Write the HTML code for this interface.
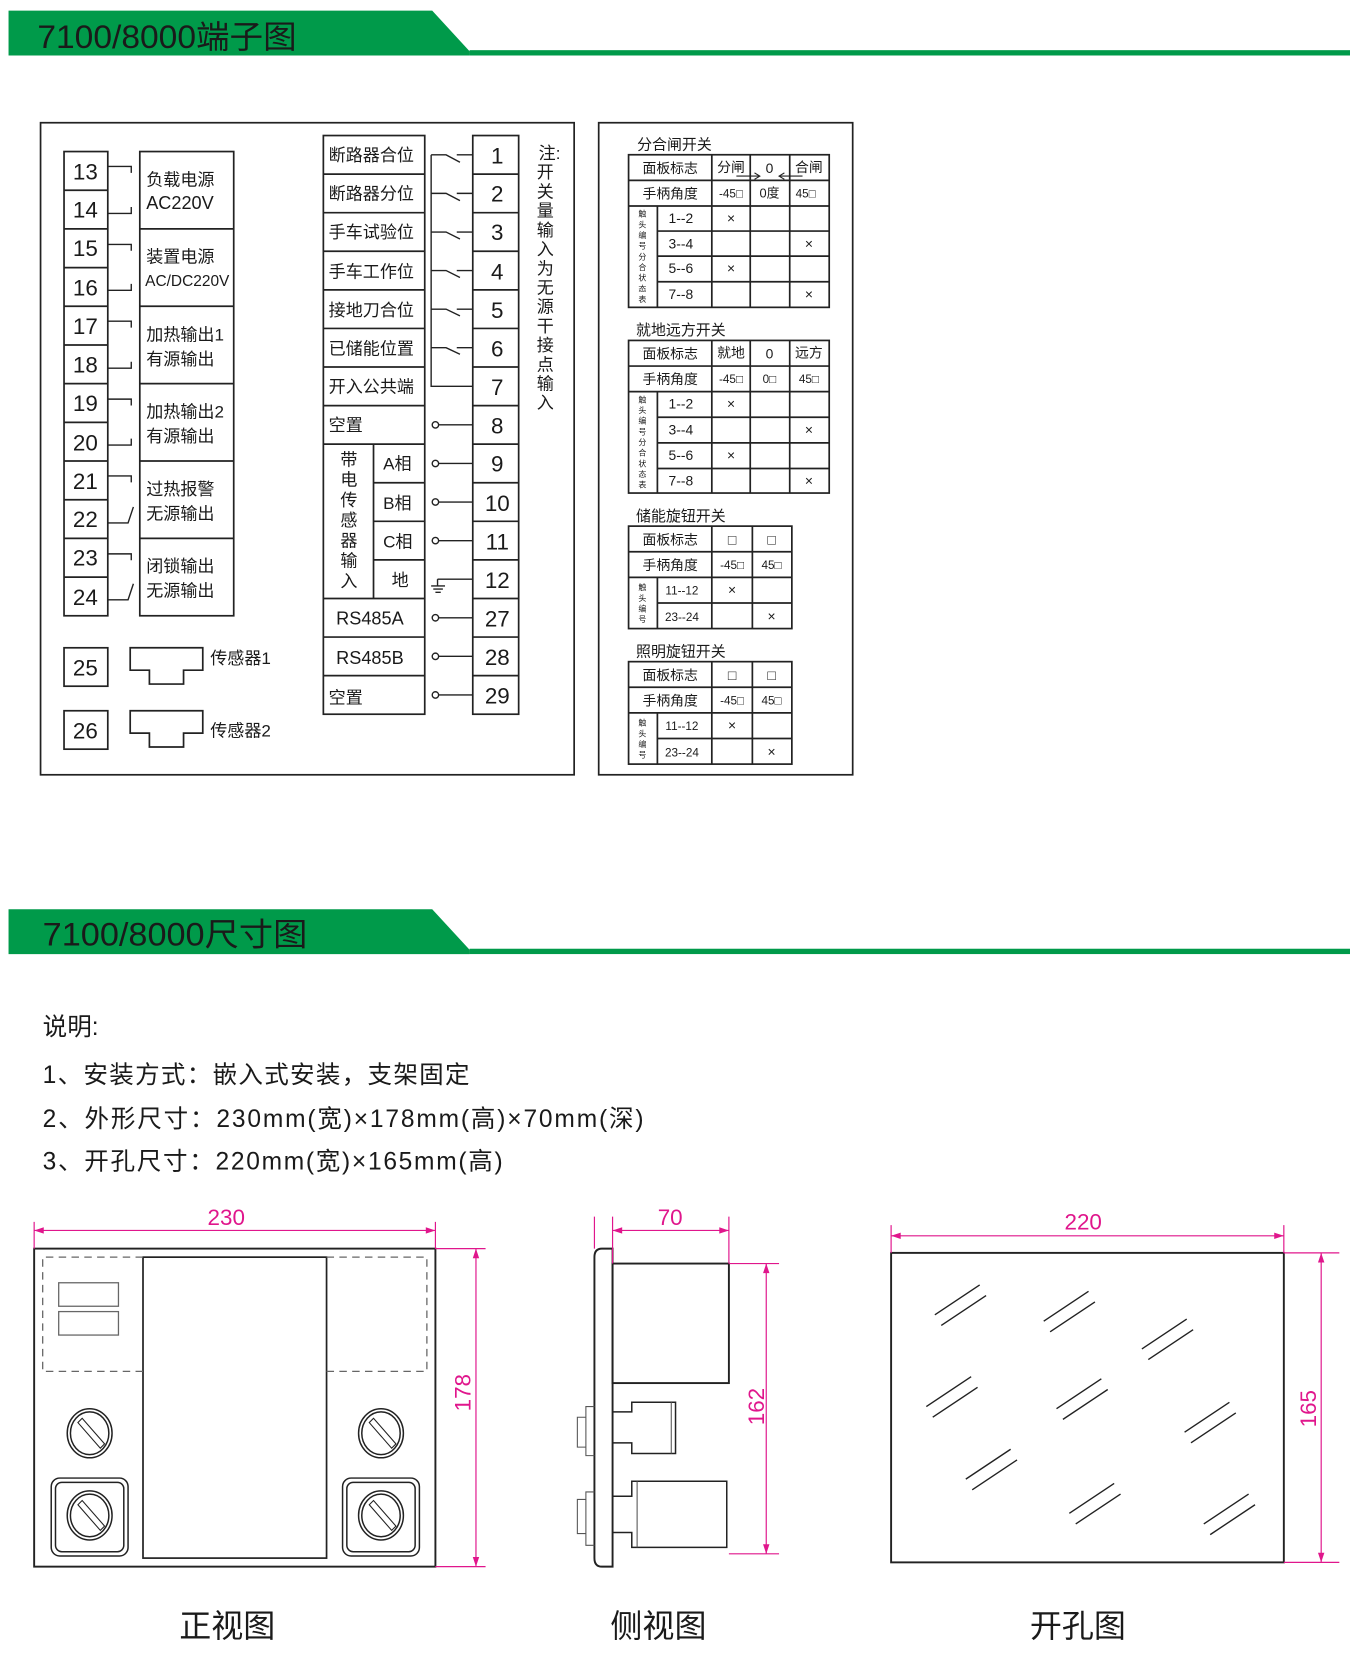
<!DOCTYPE html>
<html><head><meta charset="utf-8"><style>
html,body{margin:0;padding:0;background:#fff}
svg{display:block}
text{font-family:"Liberation Sans","Noto Sans CJK SC",sans-serif;fill:#1a1a1a}
.s{font-family:"Liberation Serif","Noto Serif CJK SC",serif}
.m{fill:#e0168c}
</style></head><body>
<svg width="1350" height="1674" viewBox="0 0 1265 1568.6" xmlns="http://www.w3.org/2000/svg">
<rect width="1265" height="1569" fill="#fff"/>
<!-- header 1 -->
<polygon points="8,10 405,10 440,48 440,52 8,52" fill="#009a4a"/>
<rect x="440" y="47" width="825" height="5" fill="#009a4a"/>
<text x="35" y="45" font-size="30" textLength="243" lengthAdjust="spacingAndGlyphs">7100/8000端子图</text>
<!-- header 2 -->
<polygon points="8,852 405,852 440,890 440,894 8,894" fill="#009a4a"/>
<rect x="440" y="889" width="825" height="5" fill="#009a4a"/>
<text x="40" y="886" font-size="30" textLength="248" lengthAdjust="spacingAndGlyphs">7100/8000尺寸图</text>

<g fill="none" stroke="#222" stroke-width="1.6">
<rect x="38" y="115" width="500" height="611"/>
<rect x="561" y="115" width="238" height="611"/>
<!-- left terminals -->
<rect x="60" y="142" width="41" height="435"/>
<path d="M60,178.25H101M60,214.5H101M60,250.75H101M60,287H101M60,323.25H101M60,359.5H101M60,395.75H101M60,432H101M60,468.25H101M60,504.5H101M60,540.75H101"/>
<rect x="131" y="142" width="88" height="435"/>
<path d="M131,214.5H219M131,287H219M131,359.5H219M131,432H219M131,504.5H219"/>
<g stroke-width="1.3">
<path d="M101,156H123V162M101,200H123V194"/>
<path d="M101,229H123V235M101,272H123V266"/>
<path d="M101,301H123V307M101,345H123V339"/>
<path d="M101,374H123V380M101,417H123V411"/>
<path d="M101,446H123V452M101,490H120L125,475"/>
<path d="M101,519H123V525M101,562H120L125,547"/>
</g>
<rect x="60" y="607" width="41" height="36"/>
<rect x="60" y="666" width="41" height="36"/>
<polygon points="122,607 190,607 190,628 172,628 172,641 140,641 140,628 122,628"/>
<polygon points="122,666 190,666 190,687 172,687 172,700 140,700 140,687 122,687"/>
<!-- middle -->
<rect x="303" y="127" width="95" height="542.25"/>
<rect x="443" y="127" width="43" height="542.25"/>
<path d="M303,163.15H398M303,199.3H398M303,235.45H398M303,271.6H398M303,307.75H398M303,343.9H398M303,380.05H398M303,416.2H398M350,452.35H398M350,488.5H398M350,524.65H398M303,560.8H398M303,596.95H398M303,633.1H398M350,416.2V560.8"/>
<path d="M443,163.15H486M443,199.3H486M443,235.45H486M443,271.6H486M443,307.75H486M443,343.9H486M443,380.05H486M443,416.2H486M443,452.35H486M443,488.5H486M443,524.65H486M443,560.8H486M443,596.95H486M443,633.1H486"/>
<g stroke-width="1.3">
<path d="M404,145.1V362H443"/>
<path d="M404,145.1H418L431,152M428,145.1H443"/>
<path d="M404,181.2H418L431,188M428,181.2H443"/>
<path d="M404,217.4H418L431,224M428,217.4H443"/>
<path d="M404,253.5H418L431,260M428,253.5H443"/>
<path d="M404,289.7H418L431,296M428,289.7H443"/>
<path d="M404,325.8H418L431,332M428,325.8H443"/>
<path d="M411,398.1H443M411,434.3H443M411,470.4H443M411,506.6H443M411,578.9H443M411,615H443M411,651.2H443"/>
<circle cx="408" cy="398.1" r="3"/><circle cx="408" cy="434.3" r="3"/><circle cx="408" cy="470.4" r="3"/><circle cx="408" cy="506.6" r="3"/><circle cx="408" cy="578.9" r="3"/><circle cx="408" cy="615" r="3"/><circle cx="408" cy="651.2" r="3"/>
<path d="M410,542.7H443M410,542.7V549M404,549H417M406,552H415M408,555H413"/>
</g>
</g>
<!-- left text -->
<g font-size="21" text-anchor="middle">
<text x="80" y="168">13</text><text x="80" y="204">14</text><text x="80" y="240">15</text><text x="80" y="277">16</text><text x="80" y="313">17</text><text x="80" y="349">18</text><text x="80" y="385">19</text><text x="80" y="422">20</text><text x="80" y="458">21</text><text x="80" y="494">22</text><text x="80" y="530">23</text><text x="80" y="567">24</text>
<text x="80" y="633">25</text><text x="80" y="692">26</text>
<text x="466" y="153">1</text><text x="466" y="189">2</text><text x="466" y="225">3</text><text x="466" y="262">4</text><text x="466" y="298">5</text><text x="466" y="334">6</text><text x="466" y="370">7</text><text x="466" y="406">8</text><text x="466" y="442">9</text><text x="466" y="479">10</text><text x="466" y="515">11</text><text x="466" y="551">12</text><text x="466" y="587">27</text><text x="466" y="623">28</text><text x="466" y="659">29</text>
</g>
<g font-size="16">
<text x="137" y="174">负载电源</text><text x="137" y="196" font-size="17">AC220V</text>
<text x="137" y="246">装置电源</text><text x="136" y="268" font-size="14.5">AC/DC220V</text>
<text x="137" y="319">加热输出1</text><text x="137" y="342">有源输出</text>
<text x="137" y="391">加热输出2</text><text x="137" y="414">有源输出</text>
<text x="137" y="464">过热报警</text><text x="137" y="487">无源输出</text>
<text x="137" y="536">闭锁输出</text><text x="137" y="559">无源输出</text>
<text x="197" y="622">传感器1</text><text x="197" y="690">传感器2</text>
<text x="308" y="151">断路器合位</text><text x="308" y="187">断路器分位</text><text x="308" y="223">手车试验位</text><text x="308" y="260">手车工作位</text><text x="308" y="296">接地刀合位</text><text x="308" y="332">已储能位置</text><text x="308" y="368">开入公共端</text><text x="308" y="404">空置</text><text x="308" y="659">空置</text>
<text x="359" y="440">A相</text><text x="359" y="477">B相</text><text x="359" y="513">C相</text><text x="367" y="549">地</text>
<text x="315" y="585" font-size="17">RS485A</text><text x="315" y="622" font-size="17">RS485B</text>
</g>
<g font-size="16" text-anchor="middle">
<text x="327" y="436">带</text><text x="327" y="455">电</text><text x="327" y="474">传</text><text x="327" y="493">感</text><text x="327" y="512">器</text><text x="327" y="531">输</text><text x="327" y="550">入</text>
<text x="515" y="149">注:</text><text x="511" y="167">开</text><text x="511" y="185">关</text><text x="511" y="203">量</text><text x="511" y="221">输</text><text x="511" y="239">入</text><text x="511" y="257">为</text><text x="511" y="275">无</text><text x="511" y="293">源</text><text x="511" y="311">干</text><text x="511" y="329">接</text><text x="511" y="347">点</text><text x="511" y="365">输</text><text x="511" y="383">入</text>
</g>

<!-- tables -->
<g fill="none" stroke="#222" stroke-width="1.6">
<rect x="589" y="145" width="188" height="143"/>
<path d="M589,169H777M589,193H777M616,216.5H777M616,240H777M616,264H777M616,193V288M667,145V288M703,145V288M740,145V288"/>
<rect x="589" y="319" width="188" height="143"/>
<path d="M589,343H777M589,367H777M616,391H777M616,415H777M616,439H777M616,367V462M667,319V462M703,319V462M740,319V462"/>
<rect x="589" y="493" width="153" height="96"/>
<path d="M589,517H742M589,541H742M616,565H742M616,541V589M667,493V589M705,493V589"/>
<rect x="589" y="620" width="153" height="96"/>
<path d="M589,644H742M589,668H742M616,692H742M616,668V716M667,620V716M705,620V716"/>
<path stroke-width="1" d="M690,165H712M707,162L712,165L707,168M752,165H730M735,162L730,165L735,168"/>
</g>
<g font-size="13" class="s" text-anchor="middle">
<text x="632" y="140" font-size="14" style="font-family:'Noto Sans CJK SC',sans-serif">分合闸开关</text>
<text x="638" y="314" font-size="14" style="font-family:'Noto Sans CJK SC',sans-serif">就地远方开关</text>
<text x="638" y="488" font-size="14" style="font-family:'Noto Sans CJK SC',sans-serif">储能旋钮开关</text>
<text x="638" y="615" font-size="14" style="font-family:'Noto Sans CJK SC',sans-serif">照明旋钮开关</text>

<text x="628" y="162">面板标志</text><text x="685" y="161">分闸</text><text x="721" y="162" font-family="Liberation Sans">0</text><text x="758" y="161">合闸</text>
<text x="628" y="186">手柄角度</text><text x="685" y="185" font-size="11">-45□</text><text x="721" y="185" font-size="12">0度</text><text x="755" y="185" font-size="11">45□</text>
<text x="638" y="209">1--2</text><text x="638" y="233">3--4</text><text x="638" y="256">5--6</text><text x="638" y="280">7--8</text>
<text x="685" y="209">×</text><text x="758" y="233">×</text><text x="685" y="256">×</text><text x="758" y="280">×</text>

<text x="628" y="336">面板标志</text><text x="685" y="335">就地</text><text x="721" y="336" font-family="Liberation Sans">0</text><text x="758" y="335">远方</text>
<text x="628" y="360">手柄角度</text><text x="685" y="359" font-size="11">-45□</text><text x="721" y="359" font-size="11">0□</text><text x="758" y="359" font-size="11">45□</text>
<text x="638" y="383">1--2</text><text x="638" y="407">3--4</text><text x="638" y="431">5--6</text><text x="638" y="455">7--8</text>
<text x="685" y="383">×</text><text x="758" y="407">×</text><text x="685" y="431">×</text><text x="758" y="455">×</text>

<text x="628" y="510">面板标志</text><text x="686" y="510">□</text><text x="723" y="510">□</text>
<text x="628" y="534">手柄角度</text><text x="686" y="533" font-size="11">-45□</text><text x="723" y="533" font-size="11">45□</text>
<text x="639" y="557" font-size="11">11--12</text><text x="639" y="582" font-size="11">23--24</text>
<text x="686" y="557">×</text><text x="723" y="582">×</text>

<text x="628" y="637">面板标志</text><text x="686" y="637">□</text><text x="723" y="637">□</text>
<text x="628" y="661">手柄角度</text><text x="686" y="660" font-size="11">-45□</text><text x="723" y="660" font-size="11">45□</text>
<text x="639" y="684" font-size="11">11--12</text><text x="639" y="709" font-size="11">23--24</text>
<text x="686" y="684">×</text><text x="723" y="709">×</text>
</g>
<g font-size="7.5" class="s" text-anchor="middle">
<text x="602" y="203">触</text><text x="602" y="213">头</text><text x="602" y="223">编</text><text x="602" y="233">号</text><text x="602" y="243">分</text><text x="602" y="253">合</text><text x="602" y="263">状</text><text x="602" y="273">态</text><text x="602" y="283">表</text>
<text x="602" y="377">触</text><text x="602" y="387">头</text><text x="602" y="397">编</text><text x="602" y="407">号</text><text x="602" y="417">分</text><text x="602" y="427">合</text><text x="602" y="437">状</text><text x="602" y="447">态</text><text x="602" y="457">表</text>
<text x="602" y="553">触</text><text x="602" y="563">头</text><text x="602" y="573">编</text><text x="602" y="583">号</text>
<text x="602" y="680">触</text><text x="602" y="690">头</text><text x="602" y="700">编</text><text x="602" y="710">号</text>
</g>

<!-- description -->
<g font-size="23">
<text x="40" y="970">说明:</text>
<text x="40" y="1015" textLength="400">1、安装方式：嵌入式安装，支架固定</text>
<text x="40" y="1056" textLength="563">2、外形尺寸：230mm(宽)×178mm(高)×70mm(深)</text>
<text x="40" y="1096" textLength="431">3、开孔尺寸：220mm(宽)×165mm(高)</text>
</g>

<!-- front view -->
<g fill="none" stroke="#222" stroke-width="1.8">
<rect x="32" y="1170" width="376" height="298"/>
<rect x="134" y="1178" width="172" height="282" stroke-width="1.6"/>
</g>
<g fill="none" stroke="#666" stroke-width="1.2">
<path d="M134,1285H40V1178H134M306,1178H400V1285H306" stroke-dasharray="7,5"/>
<rect x="55" y="1202" width="56" height="22"/><rect x="55" y="1229" width="56" height="22"/>
</g>
<g fill="none" stroke="#222" stroke-width="1.4">
<ellipse cx="84" cy="1343" rx="21" ry="23"/><ellipse cx="84" cy="1343" rx="18" ry="20"/>
<ellipse cx="357" cy="1343" rx="21" ry="23"/><ellipse cx="357" cy="1343" rx="18" ry="20"/>
<rect x="48" y="1385" width="72" height="73" rx="8"/><rect x="52" y="1389" width="64" height="65" rx="6"/>
<rect x="321" y="1385" width="72" height="73" rx="8"/><rect x="325" y="1389" width="64" height="65" rx="6"/>
<ellipse cx="84" cy="1420" rx="21" ry="23"/><ellipse cx="84" cy="1420" rx="18" ry="20"/>
<ellipse cx="357" cy="1420" rx="21" ry="23"/><ellipse cx="357" cy="1420" rx="18" ry="20"/>
<path stroke-width="1" d="M73,1333L94,1357L98,1353L77,1329ZM346,1333L367,1357L371,1353L350,1329ZM73,1410L94,1434L98,1430L77,1406ZM346,1410L367,1434L371,1430L350,1406Z"/>
</g>
<!-- side view -->
<g fill="none" stroke="#222" stroke-width="1.8">
<path d="M574,1170V1468H564Q557,1468 557,1460V1178Q557,1170 564,1170Z"/>
<rect x="574" y="1184" width="109" height="112"/>
<path stroke-width="1.4" d="M574,1323H592V1314H633V1362H592V1352H574M574,1402H592V1388H681V1450H592V1436H574"/>
<path stroke-width="1" stroke="#555" d="M557,1318H549V1364H557M549,1328H541V1356H549M557,1398H549V1448H557M549,1405H541V1437H549M629,1314V1362M597,1388V1450"/>
</g>
<!-- cutout -->
<rect x="835" y="1174" width="368" height="290" fill="none" stroke="#222" stroke-width="1.8"/>
<g stroke="#222" stroke-width="1.3">
<path d="M876,1232L918,1204M882,1242L924,1214"/>
<path d="M978,1238L1020,1210M984,1248L1026,1220"/>
<path d="M1070,1264L1112,1236M1076,1274L1118,1246"/>
<path d="M868,1318L910,1290M874,1328L916,1300"/>
<path d="M990,1320L1032,1292M996,1330L1038,1302"/>
<path d="M1110,1342L1152,1314M1116,1352L1158,1324"/>
<path d="M905,1386L947,1358M911,1396L953,1368"/>
<path d="M1002,1418L1044,1390M1008,1428L1050,1400"/>
<path d="M1128,1428L1170,1400M1134,1438L1176,1410"/>
</g>
<!-- dimensions -->
<g stroke="#e0168c" stroke-width="1.1" fill="none">
<path d="M32,1145V1170M408,1145V1170M32,1153H408"/>
<path d="M408,1170H455M408,1468H455M446,1170V1468"/>
<path d="M557,1140V1170M574,1140V1184M683,1140V1184M574,1153H683"/>
<path d="M683,1184H730M683,1456H730M718,1184V1456"/>
<path d="M835,1148V1174M1203,1148V1174M835,1158H1203"/>
<path d="M1203,1174H1255M1203,1464H1255M1238,1174V1464"/>
</g>
<g fill="#e0168c">
<path d="M32,1153l9,-3v6zM408,1153l-9,-3v6zM446,1170l-3,9h6zM446,1468l-3,-9h6z"/>
<path d="M574,1153l9,-3v6zM683,1153l-9,-3v6zM718,1184l-3,9h6zM718,1456l-3,-9h6z"/>
<path d="M835,1158l9,-3v6zM1203,1158l-9,-3v6zM1238,1174l-3,9h6zM1238,1464l-3,-9h6z"/>
</g>
<g font-size="21" text-anchor="middle" class="m">
<text x="212" y="1148" class="m">230</text>
<text x="628" y="1148" class="m">70</text>
<text x="1015" y="1152" class="m">220</text>
<text transform="translate(441,1305) rotate(-90)" class="m">178</text>
<text transform="translate(716,1318) rotate(-90)" class="m">162</text>
<text transform="translate(1233,1320) rotate(-90)" class="m">165</text>
</g>
<g font-size="30" text-anchor="middle">
<text x="213" y="1534">正视图</text>
<text x="617" y="1534">侧视图</text>
<text x="1010" y="1534">开孔图</text>
</g>
</svg>
</body></html>
